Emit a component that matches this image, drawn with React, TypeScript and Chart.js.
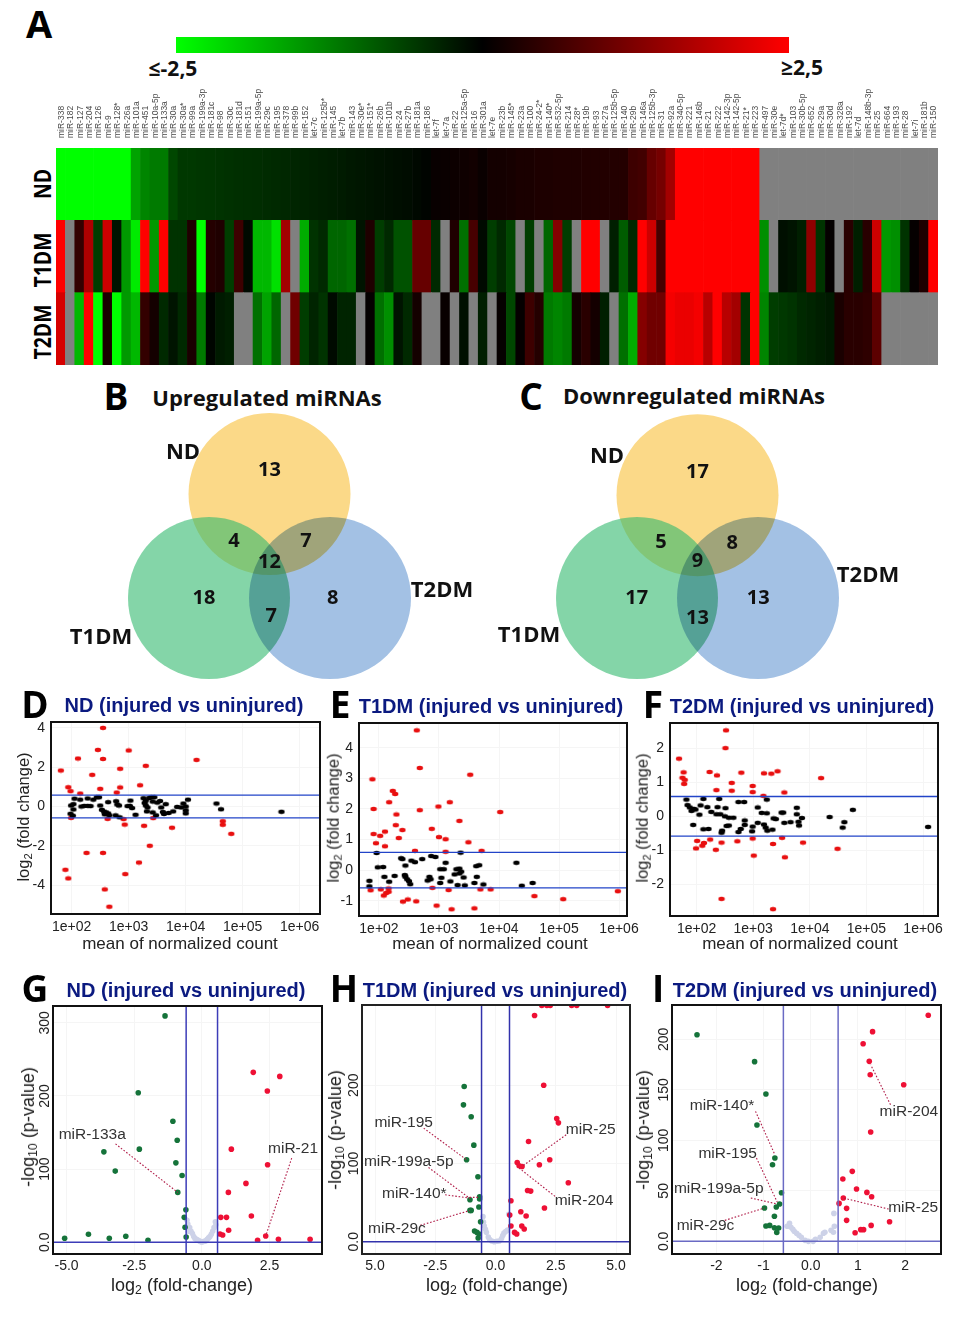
import React, { useEffect, useRef } from "react";
import { Chart, registerables } from "chart.js";

Chart.register(...registerables);

// ---------- Panel A: heat map ----------
const miRNAs = ["miR-338","miR-182","miR-127","miR-204","miR-126","miR-9","miR-128*","miR-26a","miR-101a","miR-451","miR-10a-5p","miR-133a","miR-30a","miR-30a*","miR-99a","miR-199a-3p","miR-181c","miR-98","miR-30c","miR-181d","miR-151","miR-199a-5p","miR-29c","miR-195","miR-378","miR-99b","miR-152","let-7c","miR-125b*","miR-145","let-7b","miR-143","miR-30e*","miR-151*","miR-26b","miR-101b","miR-24","miR-27b","miR-181a","miR-186","let-7f","let-7a","miR-22","miR-125a-5p","miR-16","miR-301a","let-7e","miR-23b","miR-145*","miR-23a","miR-100","miR-24-2*","miR-140*","miR-532-5p","miR-214","miR-28*","miR-19b","miR-93","miR-27a","miR-125b-5p","miR-140","miR-29b","miR-146a","miR-125b-3p","miR-31","miR-92a","miR-340-5p","miR-221","miR-146b","miR-21","miR-222","miR-142-3p","miR-142-5p","miR-21*","miR-223","miR-497","miR-30e","let-7d*","miR-103","miR-30b-5p","miR-652","miR-29a","miR-30d","miR-328a","miR-192","let-7d","miR-148b-3p","miR-25","miR-664","miR-193","miR-28","let-7i","miR-181b","miR-150"];
const ndRow = [-2.5,-2.5,-2.5,-2.5,-2.5,-2.5,-2.5,-2.5,-1.6,-1.3,-1.2,-1.2,-0.7,-0.55,-0.55,-0.53,-0.52,-0.5,-0.48,-0.46,-0.45,-0.44,-0.42,-0.4,-0.38,-0.36,-0.34,-0.32,-0.3,-0.28,-0.26,-0.24,-0.22,-0.2,-0.18,-0.16,-0.14,-0.12,-0.08,-0.04,0.08,0.1,0.12,0.15,0.18,0.1,0.2,0.2,0.22,0.25,0.25,0.28,0.28,0.3,0.3,0.3,0.32,0.32,0.33,0.34,0.35,0.6,0.65,1.0,1.15,1.6,2.5,2.5,2.5,2.5,2.5,2.5,2.5,2.5,2.5,null,null,null,null,null,null,null,null,null,null,null,null,null,null,null,null,null,null,null];
const t1dmRow = [2.5,null,0.5,1.7,-0.6,2.0,-0.2,-1.5,-2.3,2.5,-1.5,2.5,-0.5,-0.5,0.3,-2.5,0.35,0.3,-0.6,0.6,-0.1,-1.8,-1.8,-2.2,1.6,null,-1.7,-0.5,-0.4,-1.0,-1.0,-1.1,-0.2,0.3,-0.6,-0.4,-0.8,-0.8,1.0,1.0,-0.4,null,0.3,-1.1,0.7,-0.1,-0.6,-0.4,-0.7,null,-0.6,null,-1.0,1.3,-0.6,null,2.5,2.5,null,-0.3,-0.9,-0.4,2.5,2.0,0.7,2.5,2.5,2.5,2.5,2.5,2.5,2.5,2.5,2.5,2.5,-1.4,null,-0.15,-0.2,-0.3,1.4,-0.5,0.05,null,0.4,-0.3,0.4,2.0,-1.5,-1.4,-0.5,0.05,0.3,2.5];
const t2dmRow = [2.1,null,-1.8,2.5,-2.5,0.25,-2.5,-1.5,-1.8,0.5,0.2,-0.4,-0.2,-0.4,0.25,-1.2,-0.05,-0.25,-0.3,null,null,-1.1,-1.6,-1.0,null,1.1,-0.6,-0.35,-0.5,-0.1,-0.35,-0.35,null,0.05,-1.1,-1.4,-0.2,-0.4,0.2,null,null,0.08,null,-0.15,null,-0.3,null,0.05,-0.7,0.05,0.6,0.35,-1.2,-1.3,-1.2,0.2,0.4,0.2,-0.3,null,-1.1,-1.7,1.3,1.1,1.1,2.4,2.3,2.3,2.4,1.8,2.5,1.8,1.6,-0.5,2.5,-1.3,-0.6,-0.55,-0.5,-0.4,-0.35,-0.3,-0.25,0.25,0.4,0.4,0.45,0.9,null,null,null,null,null,null];

// ---------- Panels B, C: Venn diagrams (units of one circle radius) ----------
const vennUpCentres = [[0,1.284],[-0.747,0],[0.747,0]];
const vennDownCentres = [[0,1.27],[-0.747,0],[0.747,0]];
const vennColours = ["#fbd988","rgba(50,185,110,0.6)","#a3c1e4"];
const vennUpCounts: [number,number,string][] = [[0,1.58,"13"],[-0.44,0.70,"4"],[0.45,0.70,"7"],[0,0.44,"12"],[-0.81,0,"18"],[0.78,0,"8"],[0.02,-0.23,"7"]];
const vennDownCounts: [number,number,string][] = [[0,1.556,"17"],[-0.45,0.69,"5"],[0.43,0.68,"8"],[0,0.457,"9"],[-0.75,0,"17"],[0.75,0,"13"],[0,-0.247,"13"]];

// ---------- Panels D, E, F: MA plots [log10(mean count), log2 fold change] ----------
const maTicks = [2,3,4,5,6];
const maTickLabels = ["1e+02","1e+03","1e+04","1e+05","1e+06"];
const dRed = [[2.55,4.0],[2.46,2.88],[2.11,2.44],[2.55,2.42],[3.0,2.85],[1.81,1.83],[2.36,1.61],[2.85,1.92],[3.30,2.07],[4.19,2.37],[1.94,0.98],[1.98,0.78],[2.15,0.66],[2.50,0.90],[2.79,0.71],[2.85,0.97],[3.20,1.08],[1.99,-0.58],[2.63,-0.63],[2.91,-0.64],[2.93,-0.92],[3.27,-0.98],[3.43,-0.59],[3.76,-1.08],[4.65,-0.75],[4.65,-0.93],[4.80,-1.39],[3.37,-2.0],[3.18,-2.85],[2.26,-2.36],[2.55,-2.36],[1.89,-3.22],[1.94,-3.66],[2.94,-3.44],[2.58,-4.22],[2.66,-5.1]];
const dBlack = [[1.98,-0.37],[2.02,-0.47],[1.99,0.05],[2.03,0.12],[2.05,0.4],[2.03,-0.15],[2.15,0.35],[2.28,0.41],[2.17,0.0],[2.22,0.03],[2.28,0.03],[2.33,0.02],[2.38,0.35],[2.44,0.47],[2.48,0.47],[2.5,0.05],[2.53,-0.17],[2.57,-0.27],[2.58,-0.4],[2.6,-0.3],[2.64,-0.35],[2.66,-0.45],[2.64,0.22],[2.77,-0.45],[2.84,-0.55],[2.78,0.27],[2.8,0.1],[2.83,0.05],[3.03,0.3],[3.02,0.03],[3.06,-0.08],[2.98,0.02],[3.12,-0.42],[3.26,0.42],[3.3,0.3],[3.28,0.18],[3.3,0.05],[3.33,-0.05],[3.32,-0.25],[3.36,0.43],[3.4,0.47],[3.45,0.47],[3.42,0.25],[3.5,0.2],[3.55,0.28],[3.42,-0.3],[3.48,-0.45],[3.57,-0.05],[3.6,-0.28],[3.65,0.12],[3.62,-0.38],[3.7,-0.33],[3.78,-0.25],[3.85,-0.02],[3.92,-0.05],[3.96,0.15],[4.0,0.0],[4.0,-0.2],[4.0,-0.35],[4.04,0.35],[4.54,0.15],[4.62,-0.14],[5.68,-0.27]];
const eRed = [[2.63,4.57],[2.68,3.34],[3.52,3.12],[1.89,2.97],[2.23,2.59],[2.27,2.49],[2.17,2.22],[3.18,2.22],[2.99,2.08],[1.91,2.0],[2.68,1.96],[2.29,1.82],[4.02,1.90],[3.34,1.61],[2.28,1.47],[2.88,1.35],[2.39,1.31],[2.10,1.26],[1.91,1.18],[2.02,1.12],[2.33,1.05],[3.0,1.08],[3.11,1.01],[1.95,0.88],[2.10,0.78],[3.49,0.91],[2.60,0.63],[3.11,0.60],[3.71,0.63],[1.86,-0.66],[2.03,-0.63],[2.16,-0.60],[2.16,-0.71],[2.12,-0.75],[2.08,-0.83],[2.40,-1.03],[2.48,-0.96],[2.62,-1.02],[2.89,-0.58],[3.16,-0.65],[2.96,-1.16],[3.21,-1.28],[3.59,-1.25],[3.69,-0.63],[3.86,-0.63],[4.59,-0.85],[5.07,-0.95],[5.98,-0.69]];
const eBlack = [[1.96,0.56],[3.36,0.57],[1.84,-0.35],[1.84,-0.53],[1.98,0.09],[2.07,0.10],[2.09,-0.22],[2.17,-0.38],[2.26,-0.19],[2.37,0.39],[2.39,0.36],[2.44,0.15],[2.43,-0.16],[2.44,-0.22],[2.47,-0.3],[2.5,-0.36],[2.52,-0.46],[2.54,0.31],[2.6,0.26],[2.72,0.36],[2.81,-0.34],[2.84,-0.22],[2.86,-0.3],[2.87,0.46],[2.94,0.43],[3.02,0.03],[3.08,0.03],[3.04,-0.25],[3.02,-0.42],[3.11,0.24],[3.19,-0.37],[3.26,-0.14],[3.29,0.03],[3.34,0.05],[3.34,-0.11],[3.31,-0.49],[3.37,-0.05],[3.41,-0.24],[3.43,-0.5],[3.59,-0.42],[3.63,-0.22],[3.62,0.13],[3.67,0.16],[3.74,-0.47],[4.29,0.24],[4.38,-0.51],[4.56,-0.42]];
const fRed = [[2.52,2.52],[2.51,2.0],[1.69,1.69],[1.77,1.29],[1.75,1.13],[1.79,1.07],[1.78,0.95],[2.23,1.30],[2.36,1.20],[2.62,0.98],[2.35,0.77],[2.62,0.75],[2.79,1.28],[3.19,1.26],[3.32,1.25],[3.43,1.32],[4.2,1.12],[2.99,0.89],[2.99,0.71],[3.18,0.60],[3.55,0.70],[3.51,-0.63],[2.99,-0.65],[2.01,-0.72],[2.24,-0.68],[2.72,-0.73],[2.44,-0.77],[2.13,-0.78],[2.10,-0.86],[1.99,-0.94],[2.34,-0.98],[3.35,-0.81],[3.88,-0.77],[4.49,-0.95],[3.01,-1.15],[3.56,-1.20],[2.44,-2.42],[3.35,-2.72]];
const fBlack = [[1.82,0.49],[1.84,0.33],[1.88,0.26],[1.91,0.16],[1.95,0.22],[1.98,0.2],[1.94,-0.25],[2.05,0.05],[2.07,0.32],[2.12,0.51],[2.12,-0.38],[2.21,-0.37],[2.19,0.27],[2.26,0.13],[2.37,0.27],[2.4,0.51],[2.35,0.06],[2.42,0.06],[2.51,0.24],[2.5,0],[2.57,-0.04],[2.65,-0.04],[2.53,-0.28],[2.57,-0.27],[2.45,-0.42],[2.44,-0.48],[2.74,0.42],[2.84,0.42],[2.85,-0.12],[2.85,-0.25],[2.78,-0.37],[2.74,-0.46],[2.99,-0.3],[2.98,-0.44],[3.08,0.26],[3.08,-0.19],[3.15,0.1],[3.24,0.09],[3.19,-0.24],[3.24,0.49],[3.22,-0.33],[3.25,-0.42],[3.34,-0.39],[3.36,-0.06],[3.4,-0.08],[3.5,0.11],[3.53,0.11],[3.55,-0.19],[3.66,-0.17],[3.77,0.25],[3.77,0.06],[3.8,-0.16],[3.86,-0.05],[3.81,-0.27],[4.35,-0.02],[4.61,-0.17],[4.58,-0.33],[4.76,0.19],[6.09,-0.31]];
const foldCut = 0.58;

// ---------- Panels G, H, I: volcano plots [log2 fold change, -log10 p] ----------
const gGreen = [[-1.36,309.5],[-2.35,204.5],[-1.07,165.5],[-0.91,139.5],[-2.31,127.3],[-3.62,123.6],[-0.96,108.6],[-3.2,97.3],[-0.73,91.4],[-0.89,68.2],[-0.59,44.5],[-0.65,34.1],[-0.62,20.5],[-0.58,7.3],[-5.07,5.5],[-4.19,10.9],[-3.42,5.5],[-2.81,8.2],[-1.99,2.7]];
const gRed = [[1.90,232.3],[2.88,226.8],[2.42,206.8],[1.09,127.3],[2.43,105.9],[1.63,80.5],[0.98,68.2],[0.70,34.1],[0.91,34.1],[1.83,35.9],[0.99,16.4],[0.67,11.4],[0.77,10],[2.36,8.6],[2.06,2.7],[2.83,4.1],[4.0,4.1]];
const gGrey = [[-0.55,30],[-0.52,25],[-0.5,15],[-0.45,20],[-0.4,15],[-0.35,12],[-0.3,8],[-0.25,5],[-0.2,4],[-0.15,3],[-0.1,2],[-0.05,1],[0,0.5],[0.05,1],[0.1,1.5],[0.15,2],[0.2,4],[0.25,6],[0.3,8],[0.35,11],[0.4,15],[0.45,20],[0.5,28],[0.52,24]];
const hGreen = [[-1.30,198.3],[-1.33,174.9],[-1.01,159.6],[-0.90,123.4],[-1.20,104.7],[-0.73,83],[-0.66,57.4],[-0.66,54.5],[-1.06,53.6],[-0.69,44.3],[-1.06,40],[-1.01,40],[-0.62,25.5],[-0.87,13.6],[-0.77,11.9],[-0.68,9.8],[-0.72,4.7]];
const hRed = [[1.92,302],[2.13,302],[2.27,302],[3.16,302],[3.37,302],[4.65,302],[1.62,289],[2.0,200],[2.54,157.4],[2.61,151.9],[1.37,128],[2.25,104.7],[1.82,98.3],[0.90,101.3],[0.98,97],[1.10,96.2],[3.02,75.3],[1.33,65.5],[1.46,64.7],[0.64,52.3],[2.03,43],[1.05,38.3],[0.59,34],[1.27,32.8],[0.64,20],[1.09,20],[1.19,16.2],[0.79,11.9],[0.88,9.8]];
const hGrey = [[-0.52,32],[-0.5,25],[-0.47,20],[-0.42,16],[-0.38,12],[-0.3,6],[-0.25,3],[-0.15,1],[-0.05,0],[0.05,0.5],[0.15,1],[0.25,4],[0.3,8],[0.35,11],[0.42,13],[0.5,15],[0.55,35]];
const iGreen = [[-2.41,204.6],[-1.19,177.9],[-0.95,145.9],[-1.14,115.2],[-0.76,82.5],[-0.81,75.9],[-0.62,48.2],[-0.66,37],[-0.73,34],[-0.98,33],[-0.77,24.8],[-0.95,15.2],[-0.87,15.8],[-0.77,13.5],[-0.68,13.2],[-0.72,8.9]];
const iRed = [[2.49,223.8],[1.31,207.6],[1.11,195.7],[1.24,178.2],[1.26,165],[1.97,155.1],[1.27,108.3],[0.88,69.3],[0.68,61.7],[0.97,51.8],[1.19,48.5],[1.29,44.2],[0.69,42.9],[0.60,37.6],[0.76,32.7],[0.76,20.8],[1.67,19.5],[1.28,15.8],[1.06,11.6],[1.12,11.6],[0.94,8.6]];
const iGrey = [[-0.5,15],[-0.45,18],[-0.42,14],[-0.38,12],[-0.35,10],[-0.3,8],[-0.25,6],[-0.2,4],[-0.12,1],[-0.05,0],[0.05,0],[0.1,2],[0.2,4],[0.27,8],[0.3,9],[0.43,11],[0.48,9],[0.5,15],[0.49,27.7]];

const gNotes: [number,number,string][] = [[-4.05,146.8,"miR-133a"],[3.37,127.7,"miR-21"]];
const gLeaders = [[[-3.19,134.5],[-0.89,68.2]],[[3.32,115],[2.36,8.6]]];
const hNotes: [number,number,string][] = [[-3.81,151.5,"miR-195"],[-3.6,101.7,"miR-199a-5p"],[-3.37,61.3,"miR-140*"],[-4.09,16.2,"miR-29c"],[3.95,143,"miR-25"],[3.67,52.3,"miR-204"]];
const hLeaders = [[[-2.98,145.1],[-1.2,104.7]],[[-2.78,94.9],[-1.12,56.6],[-0.66,56.6]],[[-2.09,60],[-1.06,55.7]],[[-3.12,20.9],[-1.06,40]],[[2.93,136.6],[1.1,96.2]],[[2.47,57.9],[0.98,94]]];
const iNotes: [number,number,string][] = [[2.08,128.4,"miR-204"],[-1.88,134.3,"miR-140*"],[-1.76,87.1,"miR-195"],[-1.95,52.1,"miR-199a-5p"],[-2.23,15.8,"miR-29c"],[2.17,33,"miR-25"]];
const iLeaders = [[[1.69,135.3],[1.27,174.9]],[[-1.17,128.7],[-0.76,85.8]],[[-1.15,82.5],[-0.71,38.9]],[[-1.27,42.9],[-0.71,37]],[[-1.82,20.8],[-0.98,33]],[[1.65,32],[0.69,42.9]]];

const SANS = "'Liberation Sans', Arial, sans-serif";
const OPEN = "'Open Sans', sans-serif";

const toXY = (a: number[][]) => a.map(([x, y]) => ({ x, y }));

function heatColour(v: number | null) {
  if (v === null) return "#808080";
  const c = Math.round((Math.min(2.5, Math.abs(v)) / 2.5) * 255);
  return v >= 0 ? `rgb(${c},0,0)` : `rgb(0,${c},0)`;
}

function ellipse(colour: string) {
  const c = document.createElement("canvas");
  c.width = 8;
  c.height = 6;
  const g = c.getContext("2d")!;
  g.fillStyle = colour;
  g.beginPath();
  g.ellipse(4, 3, 3.2, 2.2, 0, 0, Math.PI * 2);
  g.fill();
  return c;
}

function noPadding(s: any) {
  s.paddingLeft = 0;
  s.paddingRight = 0;
  s.paddingTop = 0;
  s.paddingBottom = 0;
}

function notesPlugin(items: [number, number, string][], font: string, colour: string) {
  return {
    id: "notes",
    afterDatasetsDraw(chart: any) {
      const { ctx, scales } = chart;
      ctx.save();
      ctx.globalCompositeOperation = "source-over";
      ctx.font = font;
      ctx.fillStyle = colour;
      ctx.textAlign = "center";
      ctx.textBaseline = "middle";
      items.forEach(([x, y, t]) => ctx.fillText(t, scales.x.getPixelForValue(x), scales.y.getPixelForValue(y)));
      ctx.restore();
    },
  };
}

function framePlugin(colour: string, width: number) {
  return {
    id: "frame",
    afterDraw(chart: any) {
      const { ctx, chartArea: a } = chart;
      ctx.save();
      ctx.strokeStyle = colour;
      ctx.lineWidth = width;
      ctx.strokeRect(a.left, a.top, a.right - a.left, a.bottom - a.top);
      ctx.restore();
    },
  };
}

// The third circle (T2DM) darkens what lies under it; the others are painted normally.
const vennBlendPlugin = {
  id: "vennBlend",
  beforeDatasetDraw(chart: any, args: any) {
    chart.ctx.globalCompositeOperation = args.index === 2 ? "multiply" : "source-over";
  },
  afterDatasetsDraw(chart: any) {
    chart.ctx.globalCompositeOperation = "source-over";
  },
};

function useChart(build: () => any) {
  const ref = useRef<HTMLCanvasElement>(null);
  useEffect(() => {
    const chart = new Chart(ref.current!, build());
    return () => chart.destroy();
  }, []);
  return ref;
}

const baseOptions = {
  animation: false,
  responsive: false,
  events: [],
  plugins: { legend: { display: false }, tooltip: { enabled: false } },
};

function Heatmap() {
  const rows = [t2dmRow, t1dmRow, ndRow];
  const ref = useChart(() => ({
    type: "bar",
    data: {
      labels: miRNAs,
      datasets: rows.map((row) => ({
        data: row.map(() => 1),
        backgroundColor: row.map(heatColour),
        barPercentage: 1,
        categoryPercentage: 1,
        borderWidth: 0,
      })),
    },
    options: {
      ...baseOptions,
      layout: { padding: 0, autoPadding: false },
      scales: {
        x: {
          position: "top",
          stacked: true,
          grid: { display: false, drawTicks: false },
          border: { display: false },
          afterFit: (s: any) => { s.height = 63; noPadding(s); },
          ticks: { autoSkip: false, minRotation: 90, maxRotation: 90, padding: 10, labelOffset: 11, color: "#4a4a4a", font: { family: SANS, size: 8.5 } },
        },
        y: { stacked: true, display: false, min: 0, max: 3 },
      },
    },
  }));
  return <canvas ref={ref} width={882} height={280} style={{ position: "absolute", left: 56, top: 85 }} />;
}

function Venn({ left, top, width, height, centreX, baseY, centres, counts }: any) {
  const unit = 81;
  const ref = useChart(() => ({
    type: "bubble",
    data: {
      datasets: centres.map(([x, y]: number[], i: number) => ({
        data: [{ x, y, r: unit }],
        backgroundColor: vennColours[i],
        borderWidth: 0,
        clip: false,
        order: 3 - i,
      })),
    },
    options: {
      ...baseOptions,
      layout: { padding: 0, autoPadding: false },
      scales: {
        x: { display: false, min: (left - centreX) / unit, max: (left + width - centreX) / unit },
        y: { display: false, min: (baseY - top - height) / unit, max: (baseY - top) / unit },
      },
    },
    plugins: [vennBlendPlugin, notesPlugin(counts, `bold 20px ${OPEN}`, "#111")],
  }));
  return <canvas ref={ref} width={width} height={height} style={{ position: "absolute", left, top }} />;
}

function Plot({ l, t, r, b, xMin, xMax, yMin, yMax, xTicks, xLabels, yTicks, yLabels, datasets, notes, volcano, frame, frameWidth }: any) {
  const ml = 50, mb = 28, pad = 3, padR = 22;
  const ref = useChart(() => ({
    type: "scatter",
    data: { datasets: datasets() },
    options: {
      ...baseOptions,
      layout: { padding: { top: pad, right: padR, left: 0, bottom: 0 }, autoPadding: false },
      scales: {
        x: {
          min: xMin,
          max: xMax,
          afterFit: (s: any) => { s.height = mb; noPadding(s); },
          afterBuildTicks: (s: any) => { s.ticks = xTicks.map((value: number) => ({ value })); },
          border: { display: false },
          grid: { display: volcano, drawTicks: false, color: "#f5f5f5" },
          ticks: {
            autoSkip: false, maxRotation: 0, minRotation: 0, padding: volcano ? 4 : 5,
            color: "#222", font: { family: SANS, size: 14 },
            callback: (_: any, i: number) => xLabels[i],
          },
        },
        y: {
          min: yMin,
          max: yMax,
          afterFit: (s: any) => { s.width = ml; noPadding(s); },
          afterBuildTicks: (s: any) => { s.ticks = yTicks.map((value: number) => ({ value })); },
          border: { display: false },
          grid: { display: volcano, drawTicks: false, color: "#f5f5f5" },
          ticks: {
            autoSkip: false,
            padding: volcano ? -4 : 6,
            color: "#222",
            font: { family: SANS, size: 14 },
            ...(volcano ? { minRotation: 90, maxRotation: 90, crossAlign: "center" } : {}),
            callback: (_: any, i: number) => yLabels[i],
          },
        },
      },
    },
    plugins: [framePlugin(frame, frameWidth), ...(notes ? [notesPlugin(notes, `15.5px ${SANS}`, "#333")] : [])],
  }));
  return (
    <canvas
      ref={ref}
      width={r - l + ml + padR}
      height={b - t + pad + mb}
      style={{ position: "absolute", left: l - ml, top: t - pad }}
    />
  );
}

function maDatasets(red: number[][], black: number[][], xMin: number, xMax: number) {
  return () => {
    const line = (y: number) => ({
      data: [{ x: xMin, y }, { x: xMax, y }],
      showLine: true, pointRadius: 0, borderColor: "#2244c8", borderWidth: 1.4, order: 0,
    });
    return [
      line(foldCut),
      line(-foldCut),
      { data: toXY(black), pointStyle: ellipse("#000"), pointRadius: 3, order: 1, clip: 0 },
      { data: toXY(red), pointStyle: ellipse("#e81010"), pointRadius: 3, order: 2, clip: 0 },
    ];
  };
}

function volcanoDatasets(green: number[][], red: number[][], grey: number[][], leaders: number[][][], limits: number[], lineColour: string) {
  return () => {
    const [xMin, xMax, yMin, yMax] = limits;
    const rule = (pts: { x: number; y: number }[]) => ({
      data: pts, showLine: true, pointRadius: 0, borderColor: lineColour, borderWidth: 1.5, order: 0,
    });
    const dot = (data: number[][], colour: string, order: number) => ({
      data: toXY(data), pointRadius: 2.8, backgroundColor: colour, borderWidth: 0, order, clip: 0,
    });
    return [
      rule([{ x: -foldCut, y: yMin }, { x: -foldCut, y: yMax }]),
      rule([{ x: foldCut, y: yMin }, { x: foldCut, y: yMax }]),
      rule([{ x: xMin, y: 0 }, { x: xMax, y: 0 }]),
      ...leaders.map((pts) => ({
        data: toXY(pts), showLine: true, pointRadius: 0, borderColor: "#b01c48", borderWidth: 1.1, borderDash: [1.6, 1.8], order: 1,
      })),
      dot(green, "#15733a", 2),
      dot(red, "#ee1035", 3),
      dot(grey, "#cdd2e8", 4),
    ];
  };
}

function Label({ x, y, size, bold, color, font, rotate, squeeze, children }: any) {
  return (
    <div style={{
      position: "absolute", left: x, top: y,
      transform: `translate(-50%,-50%)${rotate ? " rotate(-90deg)" : ""}${squeeze ? ` scaleX(${squeeze})` : ""}`,
      whiteSpace: "nowrap", lineHeight: 1,
      fontFamily: font || SANS, fontSize: size, fontWeight: bold ? 700 : 400, color: color || "#222",
    }}>{children}</div>
  );
}

const Sub = ({ children }: any) => (
  <sub style={{ fontSize: "0.68em", lineHeight: 0, verticalAlign: "-0.25em" }}>{children}</sub>
);

const NAVY = "#0b1a80";
const MA_TITLE = 17;
const MA_Y = 16.5;
const V_TITLE = 18;
const maX = <>mean of normalized count</>;
const maY = <>log<Sub>2</Sub> (fold change)</>;
const vX = <>log<Sub>2</Sub> (fold-change)</>;
const vY = <>-log<Sub>10</Sub> (p-value)</>;

export default function App() {
  return (
    <div style={{ position: "absolute", left: 0, top: 0, width: 956, height: 1320, background: "#fff", overflow: "hidden" }}>
      <Label x={39} y={23} size={38} bold font={OPEN} color="#000">A</Label>
      <div style={{ position: "absolute", left: 176, top: 37, width: 613, height: 16, background: "linear-gradient(to right,#00ff00,#000 50%,#ff0000)" }} />
      <Label x={173} y={68} size={21} bold font={OPEN} color="#111">≤-2,5</Label>
      <Label x={802} y={67} size={21} bold font={OPEN} color="#111">≥2,5</Label>
      <Label x={42} y={184} size={24} bold font={OPEN} color="#000" rotate squeeze={0.81}>ND</Label>
      <Label x={42} y={260} size={24} bold font={OPEN} color="#000" rotate squeeze={0.81}>T1DM</Label>
      <Label x={42} y={332} size={24} bold font={OPEN} color="#000" rotate squeeze={0.81}>T2DM</Label>
      <Heatmap />

      <Label x={116} y={395} size={37} bold font={OPEN} color="#000">B</Label>
      <Label x={267} y={397} size={22} bold font={OPEN} color="#111">Upregulated miRNAs</Label>
      <Venn left={110} top={405} width={320} height={285} centreX={269.5} baseY={598} centres={vennUpCentres} counts={vennUpCounts} />
      <Label x={183} y={450} size={22} bold font={OPEN} color="#111">ND</Label>
      <Label x={101} y={635} size={22} bold font={OPEN} color="#111">T1DM</Label>
      <Label x={442} y={588} size={22} bold font={OPEN} color="#111">T2DM</Label>

      <Label x={531} y={395} size={37} bold font={OPEN} color="#000">C</Label>
      <Label x={694} y={395} size={22} bold font={OPEN} color="#111">Downregulated miRNAs</Label>
      <Venn left={540} top={405} width={315} height={285} centreX={697.5} baseY={598} centres={vennDownCentres} counts={vennDownCounts} />
      <Label x={607} y={454} size={22} bold font={OPEN} color="#111">ND</Label>
      <Label x={529} y={633} size={22} bold font={OPEN} color="#111">T1DM</Label>
      <Label x={868} y={573} size={22} bold font={OPEN} color="#111">T2DM</Label>

      <Label x={35} y={703} size={37} bold font={OPEN} color="#000">D</Label>
      <Label x={184} y={705} size={20} bold color={NAVY}>ND (injured vs uninjured)</Label>
      <Plot l={51} t={722} r={320} b={914} xMin={1.637} xMax={6.356} yMin={-5.47} yMax={4.3}
        xTicks={maTicks} xLabels={maTickLabels} yTicks={[-4,-2,0,2,4]} yLabels={["-4","-2","0","2","4"]}
        datasets={maDatasets(dRed, dBlack, 1.637, 6.356)} frame="#111" frameWidth={2} />
      <Label x={23} y={817} size={MA_Y} rotate>{maY}</Label>
      <Label x={180} y={943} size={MA_TITLE}>{maX}</Label>

      <Label x={340} y={703} size={37} bold font={OPEN} color="#000">E</Label>
      <Label x={491} y={706} size={20} bold color={NAVY}>T1DM (injured vs uninjured)</Label>
      <Plot l={359} t={723} r={627} b={916} xMin={1.667} xMax={6.133} yMin={-1.5} yMax={4.81}
        xTicks={maTicks} xLabels={maTickLabels} yTicks={[-1,0,1,2,3,4]} yLabels={["-1","0","1","2","3","4"]}
        datasets={maDatasets(eRed, eBlack, 1.667, 6.133)} frame="#111" frameWidth={2} />
      <Label x={333} y={818} size={MA_Y} rotate>{maY}</Label>
      <Label x={490} y={943} size={MA_TITLE}>{maX}</Label>

      <Label x={653} y={703} size={37} bold font={OPEN} color="#000">F</Label>
      <Label x={802} y={706} size={20} bold color={NAVY}>T2DM (injured vs uninjured)</Label>
      <Plot l={670} t={723} r={938} b={916} xMin={1.53} xMax={6.265} yMin={-2.92} yMax={2.735}
        xTicks={maTicks} xLabels={maTickLabels} yTicks={[-2,-1,0,1,2]} yLabels={["-2","-1","0","1","2"]}
        datasets={maDatasets(fRed, fBlack, 1.53, 6.265)} frame="#111" frameWidth={2} />
      <Label x={642} y={818} size={MA_Y} rotate>{maY}</Label>
      <Label x={800} y={943} size={MA_TITLE}>{maX}</Label>

      <Label x={35} y={987} size={37} bold font={OPEN} color="#000">G</Label>
      <Label x={186} y={990} size={20} bold color={NAVY}>ND (injured vs uninjured)</Label>
      <Plot l={53} t={1006} r={322} b={1254} xMin={-5.5} xMax={4.44} yMin={-16} yMax={323} volcano
        xTicks={[-5,-2.5,0,2.5]} xLabels={["-5.0","-2.5","0.0","2.5"]} yTicks={[0,100,200,300]} yLabels={["0.0","100","200","300"]}
        datasets={volcanoDatasets(gGreen, gRed, gGrey, gLeaders, [-5.5,4.44,-16,323], "#3c3cb8")} notes={gNotes} frame="#111" frameWidth={2} />
      <Label x={28} y={1127} size={V_TITLE} rotate>{vY}</Label>
      <Label x={182} y={1285} size={V_TITLE}>{vX}</Label>

      <Label x={344} y={987} size={37} bold font={OPEN} color="#000">H</Label>
      <Label x={495} y={990} size={20} bold color={NAVY}>T1DM (injured vs uninjured)</Label>
      <Plot l={362} t={1005} r={630} b={1254} xMin={-5.54} xMax={5.58} yMin={-15.7} yMax={302.5} volcano
        xTicks={[-5,-2.5,0,2.5,5]} xLabels={["5.0","-2.5","0.0","2.5","5.0"]} yTicks={[0,100,200]} yLabels={["0.0","100","200"]}
        datasets={volcanoDatasets(hGreen, hRed, hGrey, hLeaders, [-5.54,5.58,-15.7,302.5], "#3232ac")} notes={hNotes} frame="#222" frameWidth={2} />
      <Label x={335} y={1130} size={V_TITLE} rotate>{vY}</Label>
      <Label x={497} y={1285} size={V_TITLE}>{vX}</Label>

      <Label x={658} y={987} size={37} bold font={OPEN} color="#000">I</Label>
      <Label x={805} y={990} size={20} bold color={NAVY}>T2DM (injured vs uninjured)</Label>
      <Plot l={672} t={1005} r={941} b={1254} xMin={-2.94} xMax={2.76} yMin={-12.5} yMax={234} volcano
        xTicks={[-2,-1,0,1,2]} xLabels={["-2","-1","0.0","1","2"]} yTicks={[0,50,100,150,200]} yLabels={["0.0","50","100","150","200"]}
        datasets={volcanoDatasets(iGreen, iRed, iGrey, iLeaders, [-2.94,2.76,-12.5,234], "#6a6ac4")} notes={iNotes} frame="#111" frameWidth={2} />
      <Label x={643} y={1130} size={V_TITLE} rotate>{vY}</Label>
      <Label x={807} y={1285} size={V_TITLE}>{vX}</Label>
    </div>
  );
}
